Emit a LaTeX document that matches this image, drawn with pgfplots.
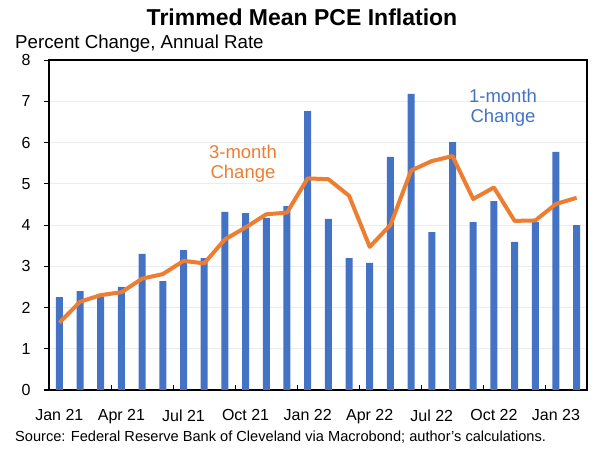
\documentclass[border=0pt]{standalone}
\usepackage{fontspec}
\setmainfont{Liberation Sans}
\usepackage{pgfplots}
\pgfplotsset{compat=1.18}
\definecolor{barblue}{HTML}{4472C4}
\definecolor{lineorange}{HTML}{ED7D31}

\begin{document}
\begin{tikzpicture}
\begin{axis}[
    name=main, anchor=south west,
    width=538pt, height=330pt, scale only axis,
    xmin=-0.5, xmax=25.5, ymin=0, ymax=8,
    ytick={0,...,8},
    xtick={0,3,...,24},
    xticklabels={Jan 21,Apr 21,Jul 21,Oct 21,Jan 22,Apr 22,Jul 22,Oct 22,Jan 23},
    minor xtick={2.5,5.5,...,23.5},
    xtick pos=bottom, ytick pos=left,
    tick align=outside,
    major x tick style={draw=none},
    minor x tick style={black, line width=1pt, yshift=5pt},
    major y tick style={black, line width=1pt},
    major tick length=5pt, minor tick length=5pt,
    axis line style={black, line width=1.3pt},
    ymajorgrids, major grid style={gray!15, line width=0.7pt},
    tick label style={font=\fontsize{16}{19}\selectfont},
    /pgf/number format/assume math mode=true,
    yticklabel style={xshift=-10pt},
    xticklabel style={yshift=-11pt},
]
\addplot[ybar, bar width=7pt, fill=barblue, draw=none] coordinates {
    (0,2.25) (1,2.40) (2,2.25) (3,2.50) (4,3.30) (5,2.64)
    (6,3.39) (7,3.20) (8,4.32) (9,4.29) (10,4.17) (11,4.46)
    (12,6.76) (13,4.15) (14,3.20) (15,3.08) (16,5.65) (17,7.18)
    (18,3.83) (19,6.01) (20,4.07) (21,4.58) (22,3.59) (23,4.07)
    (24,5.77) (25,4.00)
};
\addplot[lineorange, line width=4pt, line join=round] coordinates {
    (0,1.63) (1,2.14) (2,2.30) (3,2.37) (4,2.70) (5,2.81)
    (6,3.13) (7,3.07) (8,3.65) (9,3.94) (10,4.26) (11,4.30)
    (12,5.13) (13,5.11) (14,4.71) (15,3.47) (16,4.00) (17,5.32)
    (18,5.55) (19,5.67) (20,4.63) (21,4.91) (22,4.10) (23,4.11)
    (24,4.51) (25,4.66)
};
\end{axis}
% picture origin: 49pt left of and 60pt below the axis corner
\coordinate (O) at ([shift={(-49pt,-60pt)}]main.south west);
\node[font=\bfseries\fontsize{23}{26}\selectfont] at ([shift={(302pt,433pt)}]O) {Trimmed Mean PCE Inflation};
\node[anchor=west, inner sep=0pt, font=\fontsize{18.7}{21}\selectfont] at ([shift={(15pt,406pt)}]O) {Percent Change, Annual Rate};
\node[align=center, text=lineorange, font=\fontsize{18.5}{20}\selectfont] at ([shift={(243pt,286pt)}]O) {3-month\\Change};
\node[align=center, text=barblue, font=\fontsize{18.5}{20}\selectfont] at ([shift={(503pt,342pt)}]O) {1-month\\Change};
\node[anchor=west, inner sep=0pt, font=\fontsize{14.6}{16}\selectfont] at ([shift={(15pt,13pt)}]O) {Source: Federal Reserve Bank of Cleveland via Macrobond; author's calculations.};
\pgfresetboundingbox
\path[use as bounding box] (O) rectangle ([shift={(600pt,450pt)}]O);
\end{tikzpicture}
\end{document}
